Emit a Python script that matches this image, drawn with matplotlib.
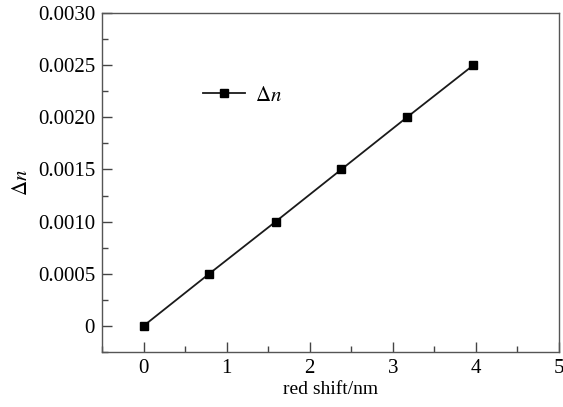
import matplotlib
matplotlib.use("Agg")
import matplotlib.pyplot as plt
from matplotlib.ticker import MultipleLocator, FuncFormatter

plt.rcParams["font.family"] = ["Liberation Serif", "DejaVu Serif"]
plt.rcParams["mathtext.fontset"] = "stix"

# red shift (nm) vs refractive index change
red_shift = [0, 0.79, 1.59, 2.38, 3.17, 3.97]
delta_n = [0, 0.0005, 0.0010, 0.0015, 0.0020, 0.0025]

fig = plt.figure(figsize=(5.63, 4.07), dpi=100)
ax = fig.add_axes([102 / 563, 1 - 352 / 407, (559 - 102) / 563, (352 - 13) / 407])

ax.plot(red_shift, delta_n, color="#1a1a1a", lw=1.3, marker="s", ms=6,
        mfc="black", mec="black", label=r"$\Delta n$")

ax.set_xlim(-0.5, 5)
ax.set_ylim(-0.00025, 0.0030)
ax.xaxis.set_major_locator(MultipleLocator(1))
ax.xaxis.set_minor_locator(MultipleLocator(0.5))
ax.yaxis.set_major_locator(MultipleLocator(0.0005))
ax.yaxis.set_minor_locator(MultipleLocator(0.00025))
ax.yaxis.set_major_formatter(FuncFormatter(lambda v, p: "0" if abs(v) < 1e-12 else f"{v:.4f}"))

ax.tick_params(which="both", direction="in", top=False, right=False,
               labelsize=15, color="#444444", pad=5)
ax.tick_params(which="major", length=7, width=1)
ax.tick_params(which="minor", length=4, width=1)
for s in ax.spines.values():
    s.set_color("#555555")
    s.set_linewidth(1)

ax.set_xlabel("red shift/nm", fontsize=14, labelpad=2)
ax.set_ylabel(r"$\Delta n$", fontsize=15, labelpad=4)

ax.legend(loc="upper left", bbox_to_anchor=(0.18, 0.84), frameon=False,
          fontsize=15, handlelength=2.0, handletextpad=0.5)

fig.savefig("out.png", dpi=100)
